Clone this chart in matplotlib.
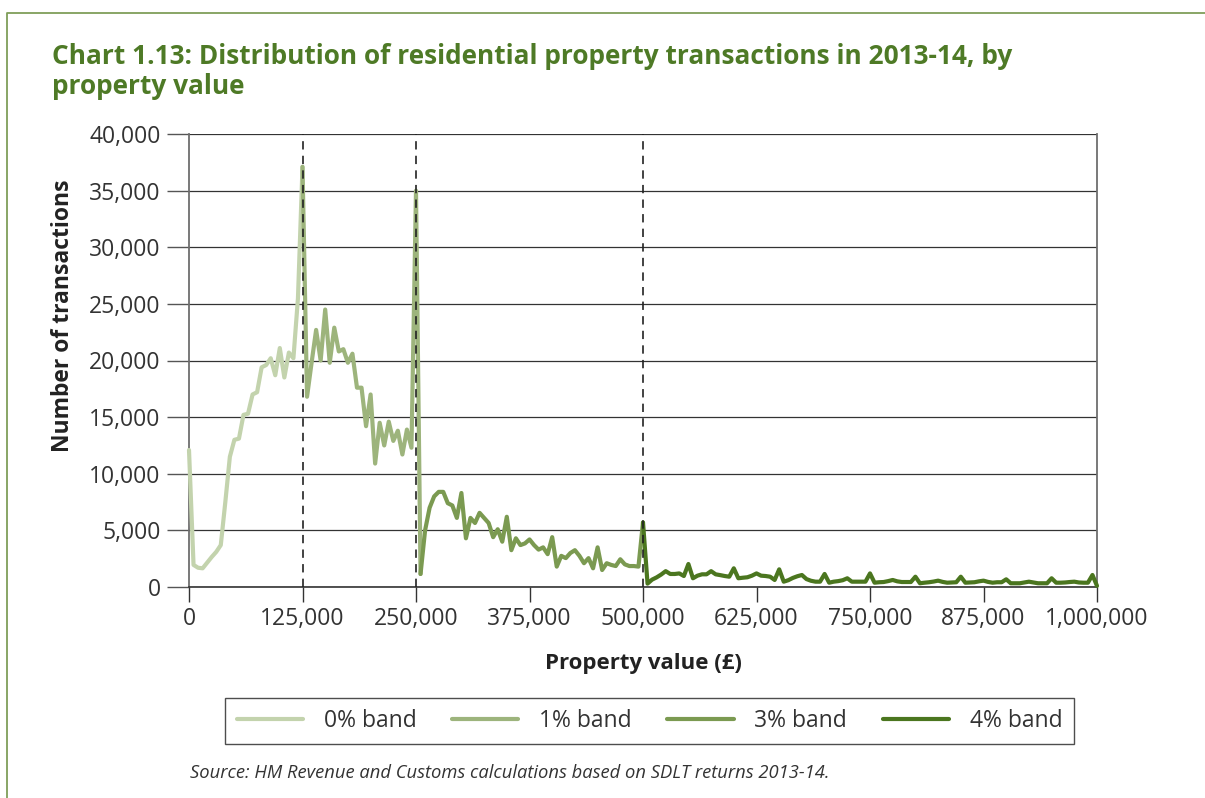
import numpy as np
import matplotlib
matplotlib.use('Agg')
import matplotlib.pyplot as plt
from matplotlib.ticker import FuncFormatter
from matplotlib.lines import Line2D

plt.rcParams['font.family'] = ['Open Sans', 'DejaVu Sans']
plt.rcParams['lines.scale_dashes'] = False

BIN = 5000
# 0% band: 0 - 125,000
band0_x = list(range(0, 125001, BIN))
band0_y = [12100, 1950, 1700, 1650, 2150, 2650, 3100, 3700, 7500, 11500,
           13000, 13100, 15200, 15300, 17000, 17200, 19400, 19600, 20200, 18700,
           21100, 18500, 20700, 20200, 25500, 37100]
# 1% band: 125,000 - 255,000
band1_x = list(range(125000, 255001, BIN))
band1_y = [37100, 16800, 19800, 22700, 20000, 24500, 19800, 22900, 20800, 21000,
           19800, 20600, 17600, 17600, 14200, 17000, 10900, 14500, 12500, 14600,
           12900, 13800, 11700, 13900, 12300, 35000, 1150]
# 3% band: 255,000 - 500,000
band3_x = list(range(255000, 500001, BIN))
band3_y = [1150, 5000, 7000, 8000, 8400, 8400, 7400, 7200, 6100, 8300,
           4300, 6100, 5650, 6550, 6100, 5650, 4400, 5100, 4000, 6200,
           3250, 4300, 3700, 3850, 4200, 3700, 3300, 3500, 2900, 4400,
           1800, 2750, 2550, 3000, 3250, 2750, 2100, 2550, 1650, 3500,
           1500, 2100, 1950, 1850, 2450, 2000, 1850, 1850, 1800, 5700]
# 4% band: 500,000 - 1,000,000
band4_x = list(range(500000, 1000001, BIN))
band4_y = [5700,
           300, 650, 850, 1100, 1400, 1150, 1150, 1200, 970, 2030,
           770, 1000, 1120, 1120, 1400, 1120, 1050, 970, 910, 1650,
           770, 820, 860, 1000, 1200, 1000, 970, 910, 620, 1560,
           470, 600, 800, 950, 1060, 700, 550, 470, 470, 1150,
           380, 470, 520, 600, 770, 470, 470, 470, 470, 1200,
           380, 420, 440, 520, 620, 500, 440, 440, 440, 910,
           330, 380, 420, 480, 560, 450, 380, 400, 420, 910,
           380, 400, 420, 500, 560, 450, 380, 420, 420, 680,
           330, 330, 330, 400, 470, 400, 330, 330, 330, 770,
           380, 380, 400, 440, 470, 400, 380, 380, 1060, 100]

thresholds = [125000, 250000, 500000]
x_ticks = [0, 125000, 250000, 375000, 500000, 625000, 750000, 875000, 1000000]
y_ticks = [0, 5000, 10000, 15000, 20000, 25000, 30000, 35000, 40000]
band_labels = ['0% band', '1% band', '3% band', '4% band']
band_colors = ['#c3d3ad', '#9db47c', '#7b9a51', '#4b761f']

title_line1 = 'Chart 1.13: Distribution of residential property transactions in 2013-14, by'
title_line2 = 'property value'
source_text = 'Source: HM Revenue and Customs calculations based on SDLT returns 2013-14.'

W, H = 1205, 798
fig = plt.figure(figsize=(W / 100, H / 100), dpi=100)
ax = fig.add_axes([189 / W, 1 - 587 / H, (1097 - 189) / W, (587 - 134) / H])

series = [(band0_x, band0_y), (band1_x, band1_y), (band3_x, band3_y), (band4_x, band4_y)]
handles = []
for (xs, ys), c, lab in zip(series, band_colors, band_labels):
    ln, = ax.plot(xs, ys, color=c, lw=3.0, solid_joinstyle='round',
                  solid_capstyle='round', label=lab, zorder=3, clip_on=False)
    handles.append(ln)

for t in thresholds:
    ax.axvline(t, color='#222222', lw=1.2, linestyle=(0, (6, 4.5)), zorder=4)

ax.set_xlim(0, 1000000)
ax.set_ylim(0, 40000)
ax.set_xticks(x_ticks)
ax.set_yticks(y_ticks)
fmt = FuncFormatter(lambda v, p: f'{int(v):,}')
ax.xaxis.set_major_formatter(fmt)
ax.yaxis.set_major_formatter(fmt)

ax.grid(axis='y', color='#333333', lw=0.9, zorder=1)
ax.set_axisbelow(True)
ax.spines['top'].set_visible(False)
ax.spines['left'].set_color('#6e6e6e')
ax.spines['left'].set_linewidth(1.3)
ax.spines['right'].set_color('#6e6e6e')
ax.spines['right'].set_linewidth(1.3)
ax.spines['bottom'].set_color('#333333')
ax.spines['bottom'].set_linewidth(1.2)

ax.tick_params(axis='y', length=15.5, width=1.0, color='#555555', pad=5,
               labelsize=16.5, labelcolor='#333333')
ax.tick_params(axis='x', length=10.5, width=1.0, color='#333333', pad=4,
               labelsize=16.5, labelcolor='#333333')

# titles and labels
fig.text(52 / W, 1 - 64 / H, title_line1, fontsize=18.9, fontweight='bold',
         color='#4e7a26', va='baseline', ha='left')
fig.text(52 / W, 1 - 94 / H, title_line2, fontsize=18.9, fontweight='bold',
         color='#4e7a26', va='baseline', ha='left')
fig.text(63 / W, 1 - 316 / H, 'Number of transactions', rotation=90,
         fontsize=16.5, fontweight='bold', color='#222222', ha='center', va='center')
fig.text(643 / W, 1 - 663 / H, 'Property value (£)', fontsize=16,
         fontweight='bold', color='#222222', ha='center', va='center')

leg = fig.legend(handles=handles, labels=band_labels, loc='center',
                 bbox_to_anchor=(649.5 / W, 1 - 721 / H), ncol=4, frameon=True,
                 fancybox=False, edgecolor='#222222', fontsize=16.5,
                 handlelength=2.9, columnspacing=1.55, handletextpad=0.9,
                 borderpad=0.5, labelcolor='#333333')
leg.get_frame().set_linewidth(1.0)

fig.text(190 / W, 1 - 773 / H, source_text, fontsize=13.2, style='italic',
         color='#333333', va='center', ha='left')

# green frame
fig.add_artist(Line2D([7 / W, 7 / W, 1.0], [0, 1 - 13 / H, 1 - 13 / H],
                      transform=fig.transFigure, color='#7f9e59', lw=1.3))

fig.savefig('out.png', dpi=100, facecolor='white')
